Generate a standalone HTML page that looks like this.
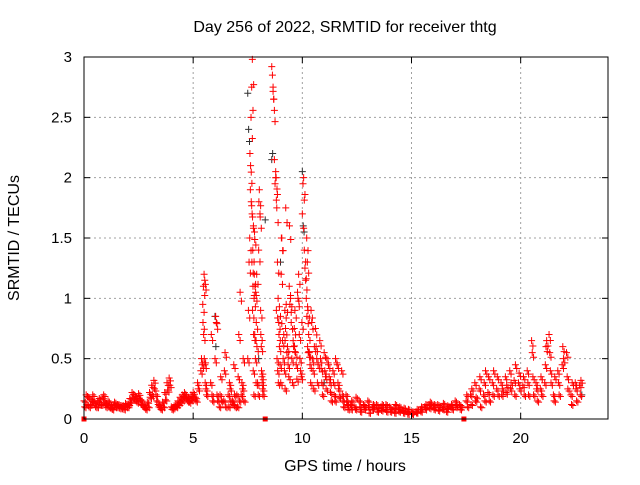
<!DOCTYPE html>
<html><head><meta charset="utf-8"><style>
body{margin:0;background:#fff;font-family:"Liberation Sans",sans-serif}
svg text{font-family:"Liberation Sans",sans-serif;font-size:15px;fill:#000}
svg text.lbl{font-size:16px}
</style></head><body>
<svg id="chart" width="640" height="480" viewBox="0 0 640 480">
<rect width="640" height="480" fill="#fff"/>
<g id="grid"></g>
<g id="blackpts"></g>
<g id="redpts"></g>
<rect x="84" y="57" width="524" height="362" fill="none" stroke="#000" stroke-width="1"/>
<g id="ticks"></g>
<text class="lbl" x="345" y="32" text-anchor="middle">Day 256 of 2022, SRMTID for receiver thtg</text>
<text class="lbl" x="345" y="471" text-anchor="middle">GPS time / hours</text>
<text class="lbl" transform="translate(19,238) rotate(-90)" text-anchor="middle">SRMTID / TECUs</text>
</svg>
<script>
const xTicks=[0,5,10,15,20];
const yTicks=[0,0.5,1,1.5,2,2.5,3];
const yTickLabels=["0","0.5","1","1.5","2","2.5","3"];
const redGroupHours=[0.0,0.1,0.2,0.3,0.4,0.5,0.6,0.7,0.8,0.9,1.0,1.1,1.2,1.3,1.4,1.5,1.6,1.7,1.8,1.9,2.0,2.1,2.2,2.3,2.4,2.5,2.6,2.7,2.8,2.9,3.0,3.1,3.2,3.3,3.4,3.5,3.6,3.7,3.8,3.9,4.0,4.1,4.2,4.3,4.4,4.5,4.6,4.7,4.8,4.9,5.0,5.1,5.2,5.35,5.45,5.55,5.8,6.0,6.2,6.4,6.6,6.8,7.0,7.2,7.5,7.6,7.7,7.8,8.0,8.1,8.6,8.8,9.0,9.2,9.4,9.6,9.8,10.0,10.2,10.4,10.6,10.8,11.0,11.2,11.4,11.6,11.8,12.0,12.2,12.4,12.6,12.8,13.0,13.2,13.4,13.6,13.8,14.0,14.2,14.4,14.6,14.8,15.0,15.2,15.4,15.6,15.8,16.0,16.2,16.4,16.6,16.8,17.0,17.2,17.5,17.7,17.9,18.1,18.3,18.5,18.7,18.9,19.1,19.3,19.5,19.7,19.9,20.1,20.3,20.5,20.7,20.9,21.1,21.3,21.5,21.7,21.9,22.1,22.3,22.5,22.7];
const redGroupValues=[[.15,.1],[.2,.12],[.18,.1],[.12,.16],[.2,.14],[.14,.1],[.1,.15],[.17,.12],[.12,.18],[.2,.14],[.1,.13],[.15,.1],[.12,.09],[.08,.12],[.14,.1],[.1,.12],[.12,.09],[.09,.11],[.11,.08],[.13,.1],[.1,.12],[.17,.14],[.22,.18],[.2,.16],[.18,.14],[.21,.17],[.16,.12],[.12,.1],[.1,.08],[.14,.1],[.22,.18],[.28,.2],[.32,.25],[.2,.15],[.12,.1],[.1,.08],[.14,.1],[.22,.16],[.3,.24],[.34,.28],[.1,.08],[.09,.11],[.12,.1],[.15,.12],[.18,.14],[.2,.16],[.22,.18],[.19,.15],[.17,.14],[.2,.16],[.22,.18],[.18,.15],[.3,.25],[.4,.5,.45,.95,1.1,1.2,1.15],[.8,.7,.5,.45],[.3,.25,.2],[.3,.7,.2,.15],[.5,.85,.8,.2,.15],[.1,.2,.35,.15],[.15,.4,.55,.1],[.2,.1,.3,.25,.15],[.15,.12,.45,.2,.1],[.2,.1,.35,.7,.15,1.05],[.2,.3,.25,.5,.15],[.5,.9,1.3,1.5,1.9,2.5,2.75,2.98,1.1,.7],[2.2,2.1,1.8,1.3,.9,.4,.2,1.55],[1.7,1.4,1.6,1,.7,.5,.3,1.2],[1.2,1.1,1.05,.8,.6,.3,.2,1.8],[1.4,1.9,1.7,.9,.6,.35,.25],[.7,.4,.3,.2],[2.92,2.85,2.75,2.65,2.15,1.95,2.05,.9,.5,.4,.3,.7],[2,1.75,1.3,1,.8,.6,.45,.3,1.5],[.85,1.2,1.5,.65,.5,.7,.4,.25,1.75],[.9,.75,.95,.55,.6,.45,.35,1.6],[1.1,.95,1,.8,.5,.3,.65],[.6,.75,.9,.55,.45,.33,1.05],[1,1.2,.7,.5,.4,.35,.8],[1.7,1.95,2,1.4,1.25,1.15,1,.85,.6,.55],[1.5,1.3,.9,.7,.55,.45,.3],[.9,.8,.5,.4,.25,.6],[.75,.6,.5,.3,.45],[.65,.5,.42,.3,.2],[.55,.4,.35,.25,.5],[.45,.35,.3,.22,.15],[.4,.3,.2,.15,.5],[.45,.3,.25,.18],[.4,.2,.15,.1],[.2,.15,.12,.08],[.12,.08,.15],[.1,.08,.18],[.15,.1,.06],[.12,.08,.1],[.15,.1,.05],[.08,.1,.12],[.12,.06,.09],[.1,.07,.12],[.08,.12,.06],[.1,.06,.08],[.09,.05,.12],[.08,.06,.1],[.07,.05,.09],[.06,.04,.08],[.05,.04,.06],[.06,.05,.08],[.08,.06,.1],[.1,.08,.12],[.12,.09,.14],[.1,.08,.12],[.12,.07,.1],[.1,.08,.13],[.06,.09,.11],[.1,.12,.08],[.15,.1,.12],[.12,.08,.1],[.15,.2,.1],[.2,.12,.25],[.3,.15,.18],[.25,.35,.1],[.2,.3,.15,.4],[.22,.35,.15],[.3,.2,.4],[.25,.35,.2],[.3,.2,.25],[.35,.22,.28],[.4,.25,.3],[.32,.2,.45],[.3,.38,.25],[.28,.35,.2],[.4,.3,.2],[.65,.55,.35,.2],[.3,.25,.15],[.25,.35,.2],[.3,.45,.6,.65],[.7,.55,.4,.3],[.2,.15,.35],[.4,.3,.2],[.45,.6,.5],[.55,.35,.25],[.2,.12,.3],[.3,.25,.15],[.28,.2,.32]];
const blackGroupHours=[6.0,7.5,8.0,8.3,8.6,9.0,10.0,11.0,22.8];
const blackGroupValues=[[.85,.6],[2.7,2.4,2.3],[.5],[1.65],[2.15,2.2],[1.3],[2.05,1.6,1.55],[.3],[.2]];
const axisSquares=[0,8.3,17.4];
const NS="http://www.w3.org/2000/svg";
const X0=84,X1=608,Y0=419,Y1=57,XMAX=24,YMAX=3;
const sx=h=>X0+(X1-X0)*h/XMAX;
const sy=v=>Y0-(Y0-Y1)*Math.min(v,YMAX)/YMAX;
function mk(tag,attrs,parent){const e=document.createElementNS(NS,tag);for(const k in attrs)e.setAttribute(k,attrs[k]);parent.appendChild(e);return e;}
const grid=document.getElementById('grid'),ticks=document.getElementById('ticks');
xTicks.forEach(t=>{const x=sx(t);
 if(t>0){const g=mk('line',{x1:x,x2:x,y1:Y1,y2:Y0,stroke:'#a0a0a0','stroke-dasharray':'2,3'},grid);
 
 }
 mk('line',{x1:x,x2:x,y1:Y0,y2:Y0-6,stroke:'#000'},ticks);
 mk('line',{x1:x,x2:x,y1:Y1,y2:Y1+6,stroke:'#000'},ticks);
 const tx=mk('text',{x:x,y:443,'text-anchor':'middle'},ticks);tx.textContent=t;
 
 
});
yTicks.forEach((t,i)=>{const y=sy(t);
 if(t>0&&t<3){const g=mk('line',{x1:X0,x2:X1,y1:y,y2:y,stroke:'#a0a0a0','stroke-dasharray':'2,3'},grid);
 
 }
 mk('line',{x1:X0,x2:X0+6,y1:y,y2:y,stroke:'#000'},ticks);
 mk('line',{x1:X1,x2:X1-6,y1:y,y2:y,stroke:'#000'},ticks);
 const tx=mk('text',{x:72,y:y+5,'text-anchor':'end'},ticks);tx.textContent=yTickLabels[i];
 
 
});
function plus(g,h,v,color){const x=sx(h),y=sy(v);
 const p=mk('path',{d:`M${x-3.5} ${y}H${x+3.5}M${x} ${y-3.5}V${y+3.5}`,stroke:color,'stroke-width':1,fill:'none'},g);
 
 }
const bg=document.getElementById('blackpts'),rg=document.getElementById('redpts');
blackGroupHours.forEach((h,i)=>blackGroupValues[i].forEach((v,j)=>plus(bg,h+j*0.04,v,'#303030')));
redGroupHours.forEach((h,i)=>redGroupValues[i].forEach((v,j)=>{plus(rg,h+j*0.03,v,'#ff0000');plus(rg,h+j*0.03+0.06,v*0.93,'#ff0000');}));
axisSquares.forEach(h=>{const r=mk('rect',{x:sx(h)-2.5,y:Y0-2.5,width:5,height:5,fill:'#ff0000'},rg);
 
 });
</script>
</body></html>
